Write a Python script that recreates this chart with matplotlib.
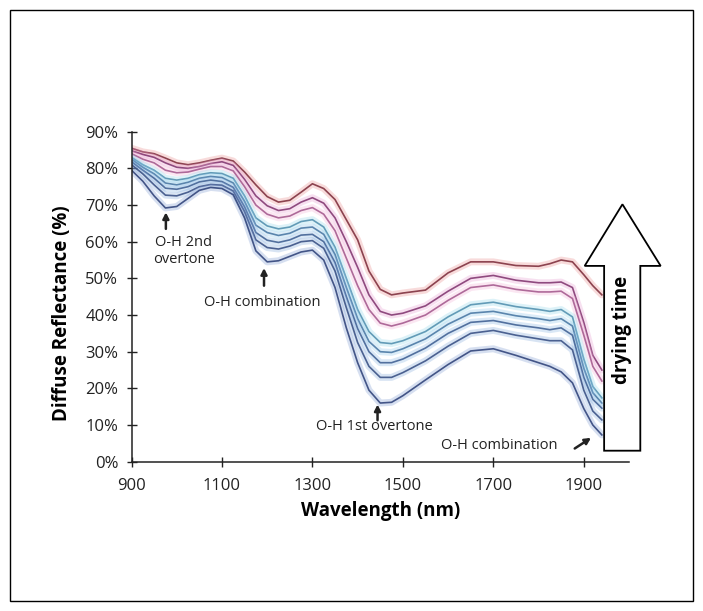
import matplotlib
matplotlib.use('Agg')
import matplotlib.pyplot as plt
from matplotlib.patches import Polygon, Rectangle
from matplotlib.ticker import PercentFormatter

plt.rcParams['font.family'] = ['Open Sans', 'DejaVu Sans']

# wavelength grid (nm) and reflectance (%), top curve (latest) to bottom (wettest)
wavelength = [900, 925, 950, 975, 1000, 1025, 1050, 1075, 1100, 1125, 1150, 1175, 1200, 1225,
              1250, 1275, 1300, 1325, 1350, 1375, 1400, 1425, 1450, 1475, 1500, 1550, 1600,
              1650, 1700, 1750, 1800, 1825, 1850, 1875, 1900, 1920, 1940]

curve0 = [85.5, 84.5, 84.0, 82.8, 81.5, 81.0, 81.5, 82.2, 82.8, 82.0, 79.0, 75.5, 72.3, 70.8,
          71.3, 73.5, 75.8, 74.5, 71.5, 66.0, 60.5, 52.0, 47.0, 45.5, 46.0, 46.8, 51.5,
          54.5, 54.5, 53.5, 53.3, 54.0, 55.0, 54.5, 51.0, 48.0, 45.5]
curve1 = [84.8, 83.8, 83.0, 81.5, 80.3, 80.0, 80.5, 81.3, 81.8, 80.8, 77.0, 72.5, 69.8, 68.5,
          69.0, 70.8, 72.0, 70.5, 66.5, 60.0, 53.0, 45.5, 41.0, 40.0, 40.5, 42.5, 46.5,
          50.0, 50.8, 49.5, 48.8, 48.8, 49.0, 47.5, 38.0, 29.0, 25.0]
curve2 = [84.0, 82.5, 81.5, 79.5, 78.8, 79.0, 79.8, 80.5, 80.5, 79.3, 75.0, 70.0, 67.5, 66.5,
          67.0, 68.5, 69.3, 67.5, 63.0, 55.5, 48.0, 41.5, 37.8, 37.0, 37.8, 40.0, 44.0,
          47.5, 48.2, 47.0, 46.3, 46.3, 46.5, 44.5, 34.5, 26.0, 22.0]
curve3 = [83.0, 81.0, 79.5, 77.3, 76.8, 77.3, 78.3, 78.8, 78.6, 77.3, 72.5, 66.5, 64.3, 63.5,
          64.0, 65.5, 66.0, 64.0, 58.5, 50.0, 41.5, 35.5, 32.5, 32.2, 33.0, 35.5, 39.5,
          42.8, 43.5, 42.3, 41.5, 41.0, 41.5, 39.5, 28.0, 20.5, 17.4]
curve4 = [82.5, 80.3, 78.5, 76.0, 75.5, 76.2, 77.3, 77.8, 77.5, 76.0, 71.0, 64.5, 62.5, 61.7,
          62.3, 63.7, 64.0, 62.0, 56.5, 47.5, 39.0, 32.8, 30.0, 29.8, 30.8, 33.5, 37.5,
          40.5, 41.0, 39.8, 39.0, 38.5, 39.0, 37.0, 25.5, 18.8, 16.0]
curve5 = [81.8, 79.5, 77.3, 74.6, 74.3, 75.0, 76.3, 76.8, 76.4, 74.8, 69.5, 62.5, 60.4, 59.8,
          60.5, 61.8, 62.0, 60.0, 54.3, 45.0, 36.3, 30.0, 27.0, 27.0, 28.0, 31.0, 35.0,
          38.0, 38.5, 37.3, 36.5, 36.0, 36.5, 34.5, 23.0, 17.0, 14.6]
curve6 = [81.0, 78.5, 75.5, 72.7, 72.5, 73.5, 75.0, 75.6, 75.4, 73.8, 68.2, 60.5, 58.4, 58.0,
          58.8, 60.0, 60.3, 58.2, 52.0, 42.0, 32.5, 26.0, 23.0, 23.0, 24.3, 27.5, 31.5,
          35.0, 35.8, 34.5, 33.5, 33.0, 33.0, 30.5, 19.5, 13.8, 11.4]
curve7 = [79.5, 76.5, 72.5, 69.2, 69.6, 71.8, 74.0, 74.8, 74.5, 72.8, 66.5, 57.5, 54.5, 54.8,
          56.0, 57.2, 57.7, 55.0, 47.5, 36.5, 27.0, 19.5, 16.0, 16.2, 18.0, 22.3, 26.5,
          30.2, 30.8, 29.0, 27.0, 26.0, 24.5, 21.5, 14.5, 10.0, 7.3]

curves = [curve0, curve1, curve2, curve3, curve4, curve5, curve6, curve7]
core_colors = ['#803240', '#843a73', '#a65c90', '#5592b0', '#4c7aa5', '#436395', '#3c5386', '#33467c']
halo_colors = ['#e88a8a', '#e699cf', '#f2b0d6', '#8fd6ea', '#8ec6ea', '#86b4e2', '#7fa6da', '#7a98d0']

# annotations: label, text centre (nm, %), arrow tail and head (nm, %)
notes = [
    ('O-H 2nd\novertone', (1016, 57.5), (976, 63.5), (976, 68.0)),
    ('O-H combination', (1190, 43.3), (1193, 48.0), (1193, 52.8)),
    ('O-H 1st overtone', (1436, 9.7), (1444, 11.3), (1444, 15.6)),
    ('O-H combination', (1714, 4.3), (1880, 3.6), (1916, 6.5)),
]

fig = plt.figure(figsize=(7.03, 6.11), dpi=100)
ax = fig.add_axes([131.5 / 703, 1 - 461.7 / 611, (629 - 131.5) / 703, (461.7 - 131.7) / 611])

for vals, cc, hc in zip(curves, core_colors, halo_colors):
    ax.plot(wavelength, vals, color=hc, linewidth=5, alpha=0.3, solid_capstyle='round')
    ax.plot(wavelength, vals, color=cc, linewidth=1.2, alpha=0.9)

ax.set_xlim(900, 2000)
ax.set_ylim(0, 90)
ax.set_xticks([900, 1100, 1300, 1500, 1700, 1900])
ax.set_yticks(range(0, 91, 10))
ax.yaxis.set_major_formatter(PercentFormatter(xmax=100, decimals=0))
ax.tick_params(direction='inout', length=7, width=1, labelsize=12, colors='#222222')
ax.tick_params(axis='y', pad=6)
ax.tick_params(axis='x', pad=8)

for s in ['top', 'right']:
    ax.spines[s].set_visible(False)
for s in ['left', 'bottom']:
    ax.spines[s].set_linewidth(1.1)
    ax.spines[s].set_color('#222222')

ax.set_xlabel('Wavelength (nm)', fontsize=13.5, fontweight='bold', labelpad=5)
ax.set_ylabel('Diffuse Reflectance (%)', fontsize=13.5, fontweight='bold')
ax.yaxis.set_label_coords(-0.12, 0.45)

for label, tpos, tail, head in notes:
    ax.text(tpos[0], tpos[1], label, ha='center', va='center', fontsize=10.5,
            color='#222222', linespacing=1.15)
    ax.annotate('', xy=head, xytext=tail,
                arrowprops=dict(arrowstyle='-|>,head_length=0.35,head_width=0.18',
                                color='#222222', lw=1.8, shrinkA=0, shrinkB=0))

# big hollow "drying time" arrow
arrow_pts = [(1945, 3.0), (2025, 3.0), (2025, 53.4), (2070, 53.4), (1985.5, 70.2),
             (1902, 53.4), (1945, 53.4)]
ax.add_patch(Polygon(arrow_pts, closed=True, facecolor='white', edgecolor='black',
                     linewidth=1.3, clip_on=False, zorder=5))
ax.text(1984, 36.0, 'drying time', rotation=90, ha='center', va='center',
        fontsize=13.5, fontweight='bold', zorder=6)

# outer frame
fig.add_artist(Rectangle((10 / 703, 10 / 611), 683 / 703, 591 / 611, transform=fig.transFigure,
                         fill=False, edgecolor='black', linewidth=1.0))

fig.savefig('out.png', dpi=100)
